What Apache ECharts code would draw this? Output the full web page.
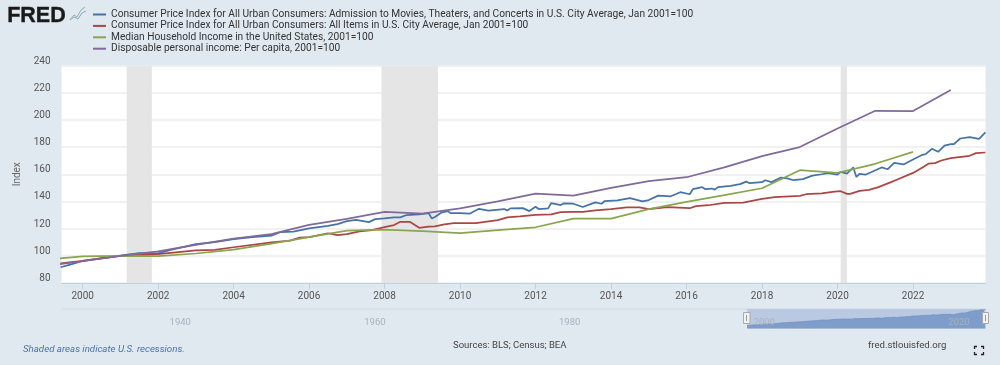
<!DOCTYPE html>
<html><head><meta charset="utf-8">
<style>html,body{margin:0;padding:0;background:#e1e9f0}#c{width:1000px;height:365px}</style>
<script src="https://cdn.jsdelivr.net/npm/echarts@6/dist/echarts.min.js"></script>
</head><body><div id="c"></div>
<script>
const seriesNames = [
 'Consumer Price Index for All Urban Consumers: Admission to Movies, Theaters, and Concerts in U.S. City Average, Jan 2001=100',
 'Consumer Price Index for All Urban Consumers: All Items in U.S. City Average, Jan 2001=100',
 'Median Household Income in the United States, 2001=100',
 'Disposable personal income: Per capita, 2001=100'
];
const movieDates = ['1999-06','1999-09','2000-01','2000-06','2001-01','2001-07','2002-01','2002-05','2003-01','2003-07','2004-01','2004-07','2005-01','2005-04','2005-08','2006-01','2006-07','2006-10','2007-01','2007-04','2007-08','2007-10','2008-01','2008-04','2008-06','2008-08','2008-12','2009-03','2009-04','2009-05','2009-07','2009-09','2009-10','2010-01','2010-04','2010-07','2010-10','2011-03','2011-04','2011-05','2011-09','2011-11','2012-01','2012-02','2012-05','2012-06','2012-09','2012-10','2013-01','2013-04','2013-08','2013-10','2013-11','2014-03','2014-07','2014-11','2015-01','2015-04','2015-08','2015-11','2016-02','2016-03','2016-06','2016-07','2016-09','2016-10','2016-11','2017-03','2017-06','2017-08','2017-09','2018-01','2018-02','2018-04','2018-07','2018-09','2018-11','2019-02','2019-05','2019-08','2019-10','2020-01','2020-02','2020-04','2020-06','2020-07','2020-08','2020-10','2020-12','2021-03','2021-05','2021-07','2021-10','2022-01','2022-04','2022-05','2022-07','2022-09','2022-11','2023-01','2023-02','2023-04','2023-07','2023-10','2023-12'];
const movieValues = [91.6,93.5,96.2,98,100.2,102,101.8,104.4,108.6,110,112.3,113.8,114.8,117.5,117.8,120.2,122,123.3,125.5,126.5,124.8,127,127.5,128.3,128.3,130,130.5,131.4,127.5,128.5,131.7,132.9,131.4,131.4,131,134.6,133.2,134.4,133.4,134.9,135.1,132.9,136.1,134.4,134.9,138.8,137.3,138.6,138.3,135.9,139.3,138.3,140.3,140.8,142.5,140,141,144.3,143.8,146.8,145.3,149,150.5,149,149.5,148.7,150.5,151.4,152.7,154.6,153.4,154.2,155.6,154.2,157.6,156.9,155.6,156.4,159,160,160.8,159.8,161.8,160.5,165,158,160.3,159.8,161.8,165,163.7,168.4,167.2,170.9,174.3,174.8,178.7,176.5,181,182.2,182.2,186.3,187.3,186.1,190.8];
const cpiDates = ['1999-06','2000-01','2001-01','2002-01','2003-01','2003-07','2004-01','2005-01','2005-07','2005-10','2006-01','2006-07','2006-10','2007-01','2007-05','2007-09','2008-01','2008-04','2008-06','2008-09','2008-12','2009-03','2009-05','2009-08','2009-11','2010-06','2011-01','2011-04','2011-08','2012-01','2012-06','2012-09','2013-01','2013-04','2013-08','2014-01','2014-06','2014-10','2015-01','2015-07','2016-02','2016-04','2016-08','2017-01','2017-07','2018-01','2018-05','2019-01','2019-03','2019-08','2019-12','2020-02','2020-04','2020-05','2020-08','2020-11','2021-02','2021-06','2021-08','2022-01','2022-04','2022-06','2022-08','2022-10','2023-01','2023-07','2023-09','2023-12'];
const cpiValues = [94.4,96.3,100,101.2,104,104.4,106.3,109.8,111.2,113.4,113.7,116.6,115.2,116,117.9,118.9,121.1,122.6,125,125,120.6,121.4,121.6,123.1,124,124,126.3,128.3,129,130.2,130.5,132.2,132.4,132.4,133.4,134.4,135.6,135.6,134.4,135.8,135,136.5,137.2,138.9,139.2,141.9,143.1,144.1,145.3,146,147.3,147.5,145.6,145.6,147.8,148.5,150.5,154.2,156.1,161,165,167.9,168.2,170.1,171.8,173.6,175.5,176];
const annualDates = ['1999-01','2000-01','2001-01','2002-01','2003-01','2004-01','2005-01','2006-01','2007-01','2008-01','2009-01','2010-01','2011-01','2012-01','2013-01','2014-01','2015-01','2016-01','2017-01','2018-01','2019-01','2020-01','2021-01','2022-01','2023-01'];
const incomeValues = [97.3,99.5,100,99.8,101.7,104.6,109,113.7,118.6,119.2,118.2,116.7,118.9,121,127.3,127.3,134.4,139.7,144.6,149.7,163,161,167.7,176.5];
const dpiValues = [92.4,96,100,103.2,108,112.7,116,122.7,127.2,132.4,131,134.9,140,145.7,144.2,149.9,155,157.8,165,173.3,180,193.7,206.7,206.5,222];
const recessions = [['2001-03','2001-11'],['2007-12','2009-06'],['2020-02','2020-04']];
const colors = ['#4572a7','#aa4643','#89a54e','#80699b'];
const mainYears = [2000,2002,2004,2006,2008,2010,2012,2014,2016,2018,2020,2022];
const navYears = [1940,1960,1980,2000,2020];
const xMin = 1999.44, xMax = 2023.92, navMin = 1929;
const yr = d => { const [y,m] = d.split('-').map(Number); return y + (m-1)/12; };
const zip = (a,b) => b.map((v,i)=>[yr(a[i]),v]);
const FONT = "Roboto,'Open Sans',sans-serif";

const line = (i,data) => ({name:seriesNames[i],type:'line',data,showSymbol:false,symbol:'none',
  lineStyle:{width:1.75,color:colors[i]},itemStyle:{color:colors[i]},xAxisIndex:0,yAxisIndex:0,animation:false});
const s0 = line(0,zip(movieDates,movieValues));
s0.markArea = {silent:true,itemStyle:{color:'#e5e5e5'},data:recessions.map(r=>[{xAxis:yr(r[0])},{xAxis:yr(r[1])}])};

const chart = echarts.init(document.getElementById('c'),null,{renderer:'canvas'});
chart.setOption({
 animation:false,
 backgroundColor:'#e1e9f0',
 textStyle:{fontFamily:FONT},
 legend:{orient:'vertical',left:93,top:8.5,padding:0,itemGap:-0.6,itemWidth:13,itemHeight:2,icon:'rect',selectedMode:false,
   data:seriesNames,textStyle:{fontFamily:FONT,fontSize:10.2,color:'#333',lineHeight:12}},
 grid:[
  {left:61.5,right:14.5,top:65.5,height:217.5,show:true,backgroundColor:'#fff',borderWidth:0},
  {left:61.5,right:14.5,top:309,height:19.5,show:false}
 ],
 xAxis:[
  {type:'value',gridIndex:0,min:xMin,max:xMax,
   axisLine:{lineStyle:{color:'#c0d0e0'}},
   axisTick:{show:true,length:6,lineStyle:{color:'#c0d0e0'},customValues:mainYears},
   axisLabel:{customValues:mainYears,formatter:v=>String(Math.round(v)),color:'#555',fontSize:10,margin:8,fontFamily:FONT},
   splitLine:{show:false}},
  {type:'value',gridIndex:1,min:navMin,max:xMax,position:'bottom',z:6,
   axisLine:{show:false},axisTick:{show:false},splitLine:{show:false},
   axisLabel:{inside:true,customValues:navYears,formatter:v=>String(Math.round(v)),color:'#a9b2bc',fontSize:9.5,margin:1,align:'left',padding:[0,0,0,1],fontFamily:FONT}}
 ],
 yAxis:[
  {type:'value',gridIndex:0,min:80,max:240,interval:20,
   name:'Index',nameLocation:'middle',nameGap:36,nameTextStyle:{color:'#666',fontSize:10,fontFamily:FONT},
   axisLine:{show:false},axisTick:{show:false},
   axisLabel:{color:'#555',fontSize:10,margin:11,verticalAlign:'bottom',lineHeight:9,fontFamily:FONT},
   splitLine:{lineStyle:{color:'#ececec',width:1.5}}},
  {type:'value',gridIndex:1,min:75,max:192,show:false,splitLine:{show:false}}
 ],
 series:[
  s0,
  line(1,zip(cpiDates,cpiValues)),
  line(2,zip(annualDates,incomeValues)),
  line(3,zip(annualDates,dpiValues)),
  {name:'navigator',type:'line',xAxisIndex:1,yAxisIndex:1,data:zip(movieDates,movieValues),showSymbol:false,symbol:'none',
   lineStyle:{width:0.75,color:'#6f90c4'},areaStyle:{color:'#7f9dcb',opacity:1},silent:true,z:3,
   markArea:{silent:true,itemStyle:{color:'#b9c9e2'},data:[[{xAxis:xMin},{xAxis:xMax}]]}}
 ],
 graphic:[
  {type:'text',left:7,top:5,style:{text:'FRED',fontFamily:"'Liberation Sans'",fontWeight:'bold',fontSize:21.5,fill:'#1a1a1a',stroke:'#1a1a1a',lineWidth:0.4}},
  {type:'polyline',shape:{points:[[70,20],[74,15],[77,17],[81,10],[85,7]]},style:{stroke:'#8fb39a',fill:null,lineWidth:1}},
  {type:'polyline',shape:{points:[[70,20],[74,17],[78,19],[82,13],[86,11]]},style:{stroke:'#8ba6c8',fill:null,lineWidth:1}},
  {type:'line',shape:{x1:61.5,y1:309,x2:985.5,y2:309},style:{stroke:'#cfd8e3',lineWidth:1}},
  {type:'rect',shape:{x:743.5,y:312.5,width:6.5,height:11},style:{fill:'#f2f2f2',stroke:'#aaa'},z:10},
  {type:'line',shape:{x1:746.5,y1:315,x2:746.5,y2:321},style:{stroke:'#999'},z:10},
  {type:'rect',shape:{x:982.5,y:312.5,width:6,height:11},style:{fill:'#f2f2f2',stroke:'#aaa'},z:10},
  {type:'line',shape:{x1:985.5,y1:315,x2:985.5,y2:321},style:{stroke:'#999'},z:10},
  {type:'text',left:23,top:344.5,style:{text:'Shaded areas indicate U.S. recessions.',fontFamily:FONT,fontStyle:'italic',fontSize:9.7,fill:'#4a72a8'}},
  {type:'text',left:453,top:340.5,style:{text:'Sources: BLS; Census; BEA',fontFamily:FONT,fontSize:9.5,fill:'#444'}},
  {type:'text',left:868,top:340.5,style:{text:'fred.stlouisfed.org',fontFamily:FONT,fontSize:9.6,fill:'#444'}},
  {type:'polyline',shape:{points:[[974.5,349],[974.5,346.5],[977,346.5]]},style:{stroke:'#222',fill:null,lineWidth:1.3}},
  {type:'polyline',shape:{points:[[981,346.5],[983.5,346.5],[983.5,349]]},style:{stroke:'#222',fill:null,lineWidth:1.3}},
  {type:'polyline',shape:{points:[[974.5,352],[974.5,354.5],[977,354.5]]},style:{stroke:'#222',fill:null,lineWidth:1.3}},
  {type:'polyline',shape:{points:[[981,354.5],[983.5,354.5],[983.5,352]]},style:{stroke:'#222',fill:null,lineWidth:1.3}}
 ]
});
</script></body></html>
